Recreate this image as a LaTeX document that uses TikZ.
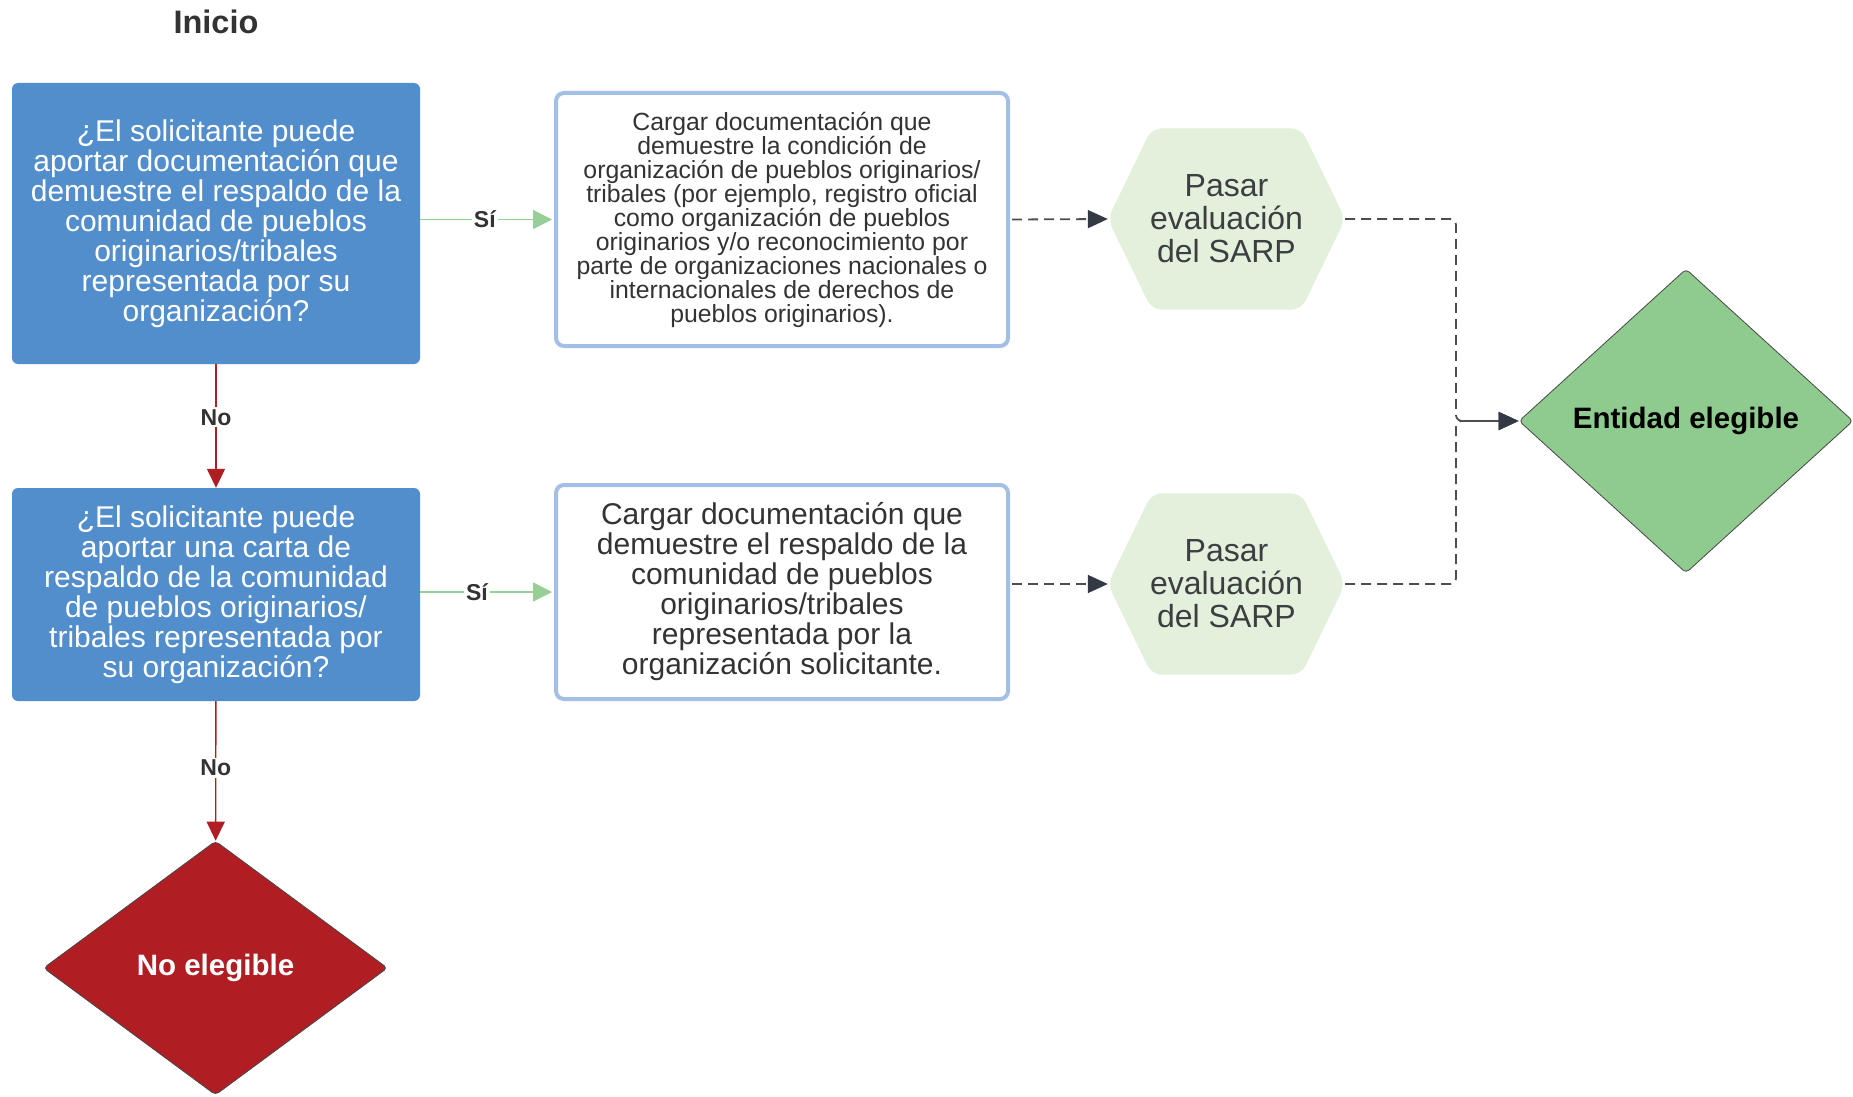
\documentclass[tikz,border=0pt]{standalone}
\usepackage{fontspec}
\setmainfont{Liberation Sans}
\usetikzlibrary{arrows.meta,shapes.geometric,backgrounds,calc}
\definecolor{qblue}{RGB}{83,142,204}
\definecolor{bordblue}{RGB}{164,191,230}
\definecolor{txtdark}{RGB}{51,51,51}
\definecolor{hextext}{RGB}{60,62,66}
\definecolor{hexfill}{RGB}{226,240,220}
\definecolor{okgreen}{RGB}{143,203,143}
\definecolor{nored}{RGB}{176,30,36}
\definecolor{sigreen}{RGB}{150,208,150}
\definecolor{dashgray}{RGB}{75,79,85}
\definecolor{tipdark}{RGB}{52,58,68}
\definecolor{edgegray}{RGB}{70,70,70}
\begin{document}
\begin{tikzpicture}[x=1pt,y=-1pt,
  qbox/.style={rectangle, rounded corners=6pt, fill=qblue, text=white, align=center,
    inner sep=0pt, minimum width=408pt, font=\fontsize{30}{30}\selectfont},
  dbox/.style={rectangle, rounded corners=8pt, draw=bordblue, line width=4pt, fill=white,
    text=txtdark, align=center, inner sep=0pt, minimum width=452pt},
  hexlbl/.style={rectangle, minimum width=237pt, minimum height=181pt, inner sep=0pt,
    text=hextext, align=center, font=\fontsize{32}{33}\selectfont},
  hexfillsty/.style={fill=hexfill, rounded corners=10pt},
  lbl/.style={fill=white, inner sep=2pt, text=txtdark, font=\bfseries\fontsize{23}{23}\selectfont},
  rline/.style={draw=nored, line width=1.4pt, -{Triangle[length=19pt,width=18pt]}, nored},
  gline/.style={draw=sigreen, line width=1.4pt, -{Triangle[length=19pt,width=19pt]}, sigreen},
  dline/.style={draw=dashgray, line width=1.8pt, dash pattern=on 10pt off 6pt,
    -{Triangle[length=20pt,width=18pt,color=tipdark,fill=tipdark]}},
]
\useasboundingbox (0,0) rectangle (1853,1097);

\node[font=\bfseries\fontsize{32.5}{33}\selectfont, text=txtdark] (ini) at (216,22) {Inicio};

\node[qbox, minimum height=281pt] (b1) at (216,223.5) {¿El solicitante puede\\aportar documentación que\\demuestre el respaldo de la\\comunidad de pueblos\\originarios/tribales\\representada por su\\organización?};

\node[qbox, minimum height=213pt] (b4) at (216,594.5) {¿El solicitante puede\\aportar una carta de\\respaldo de la comunidad\\de pueblos originarios/\\tribales representada por\\su organización?};

\node[dbox, minimum height=253pt, font=\fontsize{24.8}{24}\selectfont] (b2) at (782,219.5) {Cargar documentación que\\demuestre la condición de\\organización de pueblos originarios/\\tribales (por ejemplo, registro oficial\\como organización de pueblos\\originarios y/o reconocimiento por\\parte de organizaciones nacionales o\\internacionales de derechos de\\pueblos originarios).};

\node[dbox, minimum height=214pt, font=\fontsize{30}{30}\selectfont] (b3) at (782,592) {Cargar documentación que\\demuestre el respaldo de la\\comunidad de pueblos\\originarios/tribales\\representada por la\\organización solicitante.};

\node[hexlbl] (h1) at (1226.5,219) {Pasar\\evaluación\\del SARP};
\node[hexlbl] (h2) at (1226.5,584) {Pasar\\evaluación\\del SARP};

\begin{scope}[on background layer]
\fill[white] (0,0) rectangle (1853,1097);
\fill[hexfillsty] (h1.west) -- ([xshift=44pt]h1.north west) -- ([xshift=-44pt]h1.north east) -- (h1.east) -- ([xshift=-44pt]h1.south east) -- ([xshift=44pt]h1.south west) -- cycle;
\fill[hexfillsty] (h2.west) -- ([xshift=44pt]h2.north west) -- ([xshift=-44pt]h2.north east) -- (h2.east) -- ([xshift=-44pt]h2.south east) -- ([xshift=44pt]h2.south west) -- cycle;
\end{scope}

\node[diamond, fill=okgreen, draw=edgegray, line width=0.8pt, rounded corners=4pt,
  minimum width=334pt, minimum height=304pt, inner sep=0pt, text=black,
  font=\bfseries\fontsize{29.5}{30}\selectfont] (dg) at (1686,421) {Entidad elegible};

\node[diamond, fill=nored, draw=edgegray, line width=0.8pt, rounded corners=4pt,
  minimum width=344pt, minimum height=254pt, inner sep=0pt, text=white,
  font=\bfseries\fontsize{29.5}{30}\selectfont] (nd) at (215.5,968) {No elegible};

\coordinate (jn) at (1456,421);

\draw[rline] (b1) -- node[lbl, pos=0.43]{No} (b4);
\draw[rline] (b4) -- node[lbl, pos=0.48]{No} (nd);

\draw[gline] (b1.east |- b2) -- node[lbl, pos=0.49]{Sí} ([xshift=-2pt]b2.west);
\draw[gline] (b4.east |- b3) -- node[lbl, pos=0.43]{Sí} ([xshift=-2pt]b3.west);

\draw[dline] ([xshift=2pt]b2.east) -- (h1.west);
\draw[dline] ([xshift=2pt]b3.east |- h2) -- (h2.west);

\draw[dline, rounded corners=6pt] (h1.east) -| (jn) -- (dg.west);
\draw[dline, rounded corners=6pt] (h2.east) -| (jn) -- (dg.west);
\end{tikzpicture}
\end{document}
